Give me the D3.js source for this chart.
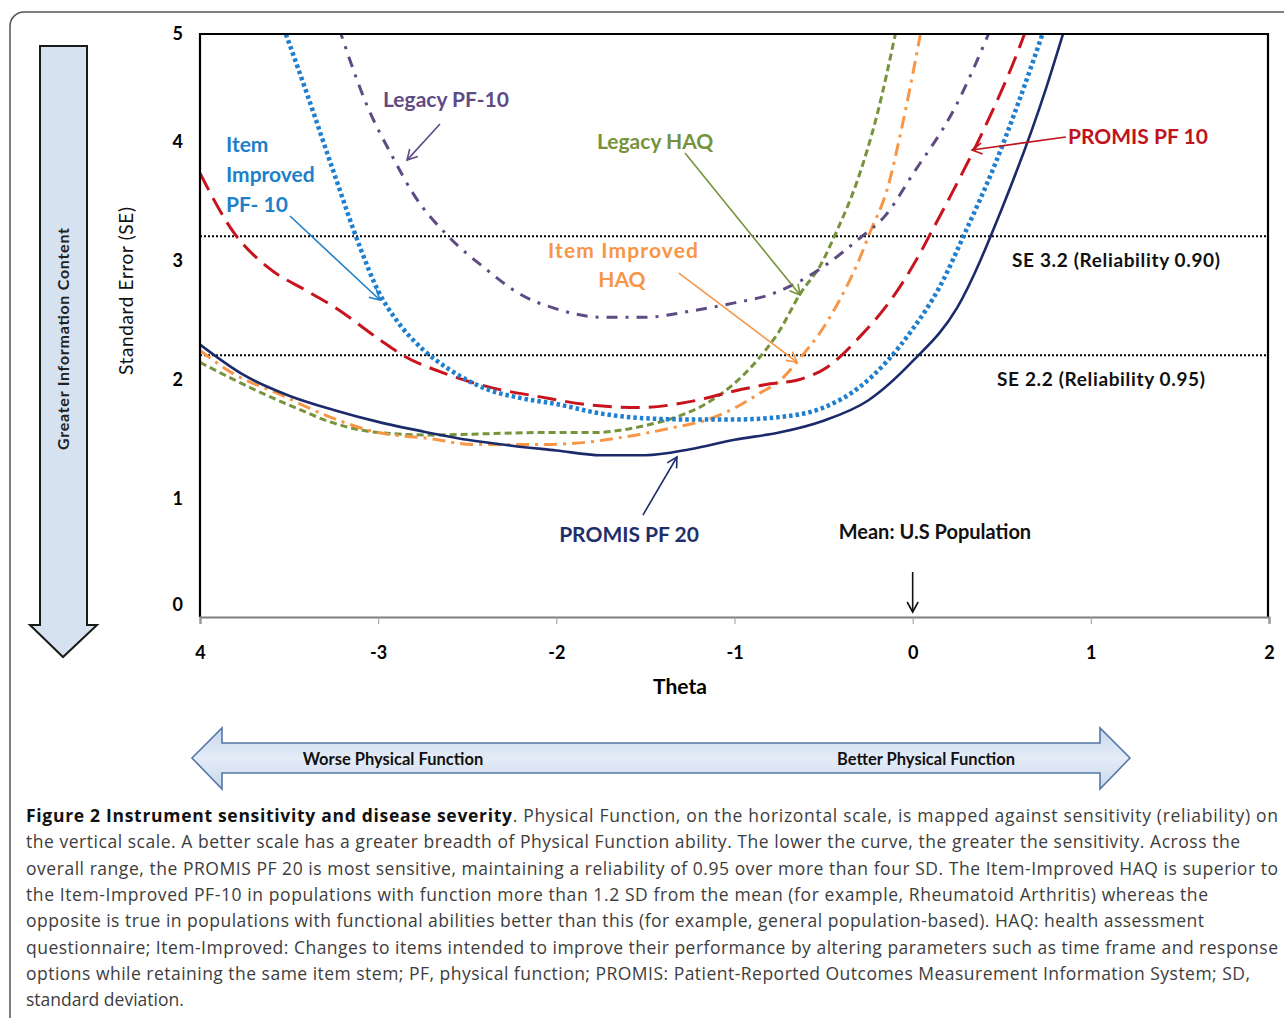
<!DOCTYPE html>
<html>
<head>
<meta charset="utf-8">
<script src="https://cdn.jsdelivr.net/npm/d3@7"></script>
<style>
  html, body { margin: 0; padding: 0; background: #fff; }
  svg { display: block; }
</style>
</head>
<body>
<svg id="chart" width="1284" height="1018"></svg>
<script>
// ---- data ----
const thetaTicks = [-4, -3, -2, -1, 0, 1, 2];
const seTicks = [0, 1, 2, 3, 4, 5];
const seLevels = [3.2, 2.2];
const seLabels = ["SE 3.2 (Reliability 0.90)", "SE 2.2 (Reliability 0.95)"];

// [theta, SE]
const promisPF20 = [[-4, 2.29], [-3.75, 2.03], [-3.5, 1.86], [-3.25, 1.74], [-3, 1.64], [-2.75, 1.56],
  [-2.5, 1.49], [-2.25, 1.44], [-2, 1.40], [-1.75, 1.36], [-1.5, 1.36], [-1.25, 1.41], [-1, 1.49],
  [-0.75, 1.55], [-0.5, 1.65], [-0.25, 1.82], [0, 2.15], [0.25, 2.60], [0.5, 3.43], [0.75, 4.45], [0.86, 4.98]];
const itemImprovedPF10 = [[-3.53, 4.95], [-3.4, 4.4], [-3.25, 3.74], [-3.1, 3.1], [-3, 2.74], [-2.9, 2.5],
  [-2.75, 2.25], [-2.6, 2.08], [-2.4, 1.92], [-2.2, 1.84], [-2, 1.79], [-1.75, 1.71], [-1.5, 1.67],
  [-1.25, 1.66], [-1, 1.66], [-0.75, 1.68], [-0.5, 1.76], [-0.3, 1.93], [-0.15, 2.14], [0, 2.42],
  [0.15, 2.77], [0.3, 3.25], [0.45, 3.76], [0.6, 4.35], [0.74, 4.95]];
const legacyPF10 = [[-3.22, 4.95], [-3.06, 4.29], [-2.92, 3.87], [-2.8, 3.55], [-2.6, 3.19], [-2.4, 2.93],
  [-2.2, 2.71], [-2, 2.59], [-1.75, 2.52], [-1.5, 2.52], [-1.25, 2.57], [-1, 2.64], [-0.8, 2.71],
  [-0.6, 2.85], [-0.45, 3.0], [-0.3, 3.18], [-0.15, 3.38], [0, 3.72], [0.23, 4.26], [0.44, 4.95]];
const promisPF10 = [[-4, 3.73], [-3.81, 3.23], [-3.62, 2.94], [-3.4, 2.74], [-3.25, 2.61], [-3, 2.34],
  [-2.85, 2.19], [-2.65, 2.06], [-2.37, 1.93], [-2.09, 1.85], [-1.8, 1.78], [-1.53, 1.76], [-1.25, 1.81],
  [-0.97, 1.91], [-0.8, 1.96], [-0.65, 1.99], [-0.48, 2.10], [-0.3, 2.35], [-0.11, 2.69], [0.02, 3.0],
  [0.11, 3.25], [0.23, 3.59], [0.4, 4.1], [0.6, 4.79], [0.64, 4.95]];
const legacyHAQ = [[-4, 2.14], [-3.83, 2.01], [-3.62, 1.86], [-3.45, 1.75], [-3.27, 1.64], [-3, 1.55],
  [-2.7, 1.53], [-2.4, 1.54], [-2.1, 1.55], [-1.8, 1.55], [-1.53, 1.60], [-1.35, 1.67], [-1.2, 1.76],
  [-1.07, 1.88], [-0.86, 2.18], [-0.75, 2.40], [-0.63, 2.72], [-0.52, 2.95], [-0.43, 3.23],
  [-0.31, 3.67], [-0.2, 4.22], [-0.09, 4.95]];
const itemImprovedHAQ = [[-4, 2.24], [-3.83, 2.06], [-3.55, 1.87], [-3.27, 1.68], [-3, 1.55], [-2.71, 1.50],
  [-2.47, 1.45], [-2.1, 1.45], [-1.9, 1.46], [-1.63, 1.51], [-1.35, 1.59], [-1.15, 1.66], [-0.97, 1.78],
  [-0.86, 1.88], [-0.75, 1.98], [-0.63, 2.18], [-0.52, 2.39], [-0.43, 2.61], [-0.31, 2.97],
  [-0.24, 3.23], [-0.14, 3.61], [-0.06, 4.12], [0.05, 4.95]];

const captionLines = [
  ["Figure 2 Instrument sensitivity and disease severity", ". Physical Function, on the horizontal scale, is mapped against sensitivity (reliability) on"],
  ["", "the vertical scale. A better scale has a greater breadth of Physical Function ability. The lower the curve, the greater the sensitivity. Across the"],
  ["", "overall range, the PROMIS PF 20 is most sensitive, maintaining a reliability of 0.95 over more than four SD. The Item-Improved HAQ is superior to"],
  ["", "the Item-Improved PF-10 in populations with function more than 1.2 SD from the mean (for example, Rheumatoid Arthritis) whereas the"],
  ["", "opposite is true in populations with functional abilities better than this (for example, general population-based). HAQ: health assessment"],
  ["", "questionnaire; Item-Improved: Changes to items intended to improve their performance by altering parameters such as time frame and response"],
  ["", "options while retaining the same item stem; PF, physical function; PROMIS: Patient-Reported Outcomes Measurement Information System; SD,"],
  ["", "standard deviation."]
];
const captionWidths = [1252, 1214, 1252, 1182, 1178, 1252, 1224, null];

// ---- layout ----
const svg = d3.select("#chart");
const plot = {left: 200, right: 1268, top: 34, bottom: 617};
const x = d3.scaleLinear().domain([-4, 2]).range([plot.left, 1269]);
const y = d3.scaleLinear().domain([0, 4.9]).range([plot.bottom, plot.top]);
const labelFont = "Lato, 'Open Sans', sans-serif";

const series = [
  {data: legacyHAQ, color: "#77933c", dash: "7,4", width: 3},
  {data: itemImprovedHAQ, color: "#f79646", dash: "13,6,3,6", width: 3},
  {data: legacyPF10, color: "#5f4b84", dash: "11,8,3,8", width: 3},
  {data: promisPF10, color: "#c8141e", dash: "19,9", width: 3},
  {data: itemImprovedPF10, color: "#1e7fcf", dash: "3.5,3", width: 4.5},
  {data: promisPF20, color: "#1b2a6b", dash: null, width: 2.6}
];

const defs = svg.append("defs");
defs.append("clipPath").attr("id", "plotClip").append("rect")
  .attr("x", plot.left).attr("y", plot.top)
  .attr("width", plot.right - plot.left).attr("height", plot.bottom - plot.top);

const grad = defs.append("linearGradient").attr("id", "bandGrad")
  .attr("x1", 0).attr("y1", 0).attr("x2", 0).attr("y2", 1);
grad.append("stop").attr("offset", "0%").attr("stop-color", "#c9d8ec");
grad.append("stop").attr("offset", "50%").attr("stop-color", "#e4ecf7");
grad.append("stop").attr("offset", "100%").attr("stop-color", "#c9d8ec");

function marker(id, color) {
  defs.append("marker").attr("id", id)
    .attr("markerUnits", "userSpaceOnUse")
    .attr("markerWidth", 14).attr("markerHeight", 14)
    .attr("refX", 11).attr("refY", 7).attr("orient", "auto")
    .append("path").attr("d", "M1,1.5 L11,7 L1,12.5")
    .attr("fill", "none").attr("stroke", color).attr("stroke-width", 1.6);
}

// outer rounded frame
svg.append("rect").attr("x", 10).attr("y", 12).attr("width", 1300).attr("height", 1030)
  .attr("rx", 14).attr("fill", "none").attr("stroke", "#555").attr("stroke-width", 1.5);

// vertical arrow "Greater Information Content"
svg.append("path")
  .attr("d", "M40,46 L87,46 L87,625 L97,625 L63,657 L30,625 L40,625 Z")
  .attr("fill", "#d7e2f0").attr("stroke", "#1a1a1a").attr("stroke-width", 2);
svg.append("text").attr("transform", "translate(69,339) rotate(-90)")
  .attr("text-anchor", "middle").attr("font-family", labelFont).attr("font-weight", "bold")
  .attr("font-size", 16).attr("textLength", 222).attr("lengthAdjust", "spacing")
  .attr("fill", "#222").text("Greater Information Content");

// horizontal double arrow
svg.append("path")
  .attr("d", "M192,758 L222,728 L222,743 L1100,743 L1100,728 L1130,758 L1100,789 L1100,773 L222,773 L222,789 Z")
  .attr("fill", "url(#bandGrad)").attr("stroke", "#5577a8").attr("stroke-width", 1.6);
svg.append("text").attr("x", 393).attr("y", 765).attr("text-anchor", "middle")
  .attr("font-family", labelFont).attr("font-weight", "bold").attr("font-size", 16.5)
  .attr("fill", "#111").text("Worse Physical Function");
svg.append("text").attr("x", 926).attr("y", 765).attr("text-anchor", "middle")
  .attr("font-family", labelFont).attr("font-weight", "bold").attr("font-size", 16.5)
  .attr("fill", "#111").text("Better Physical Function");

// reference SE lines
svg.append("g").selectAll("line").data(seLevels).join("line")
  .attr("x1", plot.left).attr("x2", plot.right - 2)
  .attr("y1", d => y(d)).attr("y2", d => y(d))
  .attr("stroke", "#000").attr("stroke-width", 2).attr("stroke-dasharray", "2,2");

// curves
const line = d3.line().x(d => x(d[0])).y(d => y(d[1])).curve(d3.curveMonotoneX);
svg.append("g").attr("clip-path", "url(#plotClip)")
  .selectAll("path").data(series).join("path")
  .attr("d", d => line(d.data))
  .attr("fill", "none")
  .attr("stroke", d => d.color)
  .attr("stroke-width", d => d.width)
  .attr("stroke-dasharray", d => d.dash);

// frame
svg.append("path")
  .attr("d", `M${plot.left},${plot.bottom} L${plot.left},${plot.top} L${plot.right},${plot.top} L${plot.right},${plot.bottom}`)
  .attr("fill", "none").attr("stroke", "#000").attr("stroke-width", 2.2);

// x axis
const xAxis = svg.append("g").attr("transform", `translate(0,${plot.bottom})`)
  .call(d3.axisBottom(x).tickValues(thetaTicks).tickSize(7).tickPadding(22)
    .tickFormat(d => d === -4 ? "4" : String(d)));
xAxis.select(".domain").attr("stroke", "#7f7f7f").attr("stroke-width", 2.2);
xAxis.selectAll(".tick line").attr("stroke", "#9a9a9a").attr("stroke-width", 1);
xAxis.selectAll(".tick text").attr("font-family", labelFont).attr("font-weight", "bold")
  .attr("font-size", 18).attr("fill", "#000");

// y tick labels (no tick marks, as in the figure)
svg.append("g").selectAll("text").data(seTicks).join("text")
  .attr("x", 183)
  .attr("y", d => d === 0 ? y(0) - 12 : y(Math.min(d, y.domain()[1])))
  .attr("dy", "0.36em").attr("text-anchor", "end")
  .attr("font-family", labelFont).attr("font-weight", "bold").attr("font-size", 18)
  .text(d => d);

// axis titles
svg.append("text").attr("x", 680).attr("y", 694).attr("text-anchor", "middle")
  .attr("font-family", labelFont).attr("font-weight", "bold").attr("font-size", 21).text("Theta");
svg.append("text").attr("transform", "translate(133,291) rotate(-90)").attr("text-anchor", "middle")
  .attr("font-family", labelFont).attr("font-size", 19).attr("textLength", 168).attr("lengthAdjust", "spacing")
  .attr("fill", "#111").text("Standard Error (SE)");

// SE level labels
svg.append("g").selectAll("text").data(seLevels).join("text")
  .attr("x", (d, i) => i === 0 ? 1012 : 997)
  .attr("y", d => y(d) + 24).attr("dy", "0.36em")
  .attr("font-family", labelFont).attr("font-weight", "bold").attr("font-size", 19)
  .attr("textLength", 208).attr("lengthAdjust", "spacing")
  .attr("fill", "#111").text((d, i) => seLabels[i]);

// annotations: label text and pointer arrows (data coordinates)
const notes = [
  {lines: ["Legacy PF-10"], at: [-2.973, 4.353], anchor: "start", color: "#5f4b84", from: [-2.653, 4.143], to: [-2.838, 3.84]},
  {lines: ["Item", "Improved", "PF- 10"], at: [-3.854, 3.975], anchor: "start", color: "#1f7fc9", from: [-3.495, 3.37], to: [-2.99, 2.664]},
  {lines: ["Legacy HAQ"], at: [-1.772, 4.0], anchor: "start", color: "#76923c", from: [-1.278, 3.899], to: [-0.632, 2.706]},
  {lines: ["Item Improved"], at: [-2.047, 3.084], anchor: "start", color: "#f79646", from: [-1.312, 2.891], to: [-0.649, 2.143], width: 150},
  {lines: ["HAQ"], at: [-1.632, 2.84], anchor: "middle", color: "#f79646"},
  {lines: ["PROMIS PF 10"], at: [0.872, 4.042], anchor: "start", color: "#c0141c", from: [0.86, 4.034], to: [0.333, 3.925]},
  {lines: ["PROMIS PF 20"], at: [-1.592, 0.698], anchor: "middle", color: "#1f2f6b", from: [-1.514, 0.857], to: [-1.323, 1.345]},
  {lines: ["Mean: U.S Population"], at: [0.125, 0.72], anchor: "middle", color: "#111", from: [0, 0.378], to: [0, 0.042], size: 20}
];
notes.forEach((n, i) => {
  const g = svg.append("g");
  n.lines.forEach((t, j) => {
    const tx = g.append("text").attr("x", x(n.at[0])).attr("y", y(n.at[1]) + j * 30).attr("dy", "0.36em")
      .attr("text-anchor", n.anchor).attr("font-family", labelFont).attr("font-weight", "bold")
      .attr("font-size", n.size || 21).attr("fill", n.color).text(t);
    if (n.width) tx.attr("textLength", n.width).attr("lengthAdjust", "spacing");
  });
  if (n.from) {
    marker("arr" + i, n.color);
    g.append("line")
      .attr("x1", x(n.from[0])).attr("y1", y(n.from[1]))
      .attr("x2", x(n.to[0])).attr("y2", y(n.to[1]))
      .attr("stroke", n.color).attr("stroke-width", 1.6)
      .attr("marker-end", `url(#arr${i})`);
  }
});

// caption
const cap = svg.append("g").attr("font-family", "'Open Sans', sans-serif").attr("font-size", 17.5);
captionLines.forEach((l, i) => {
  const t = cap.append("text").attr("x", 26).attr("y", 822 + i * 26.3).attr("fill", "#3d3d3d");
  if (captionWidths[i]) t.attr("textLength", captionWidths[i]).attr("lengthAdjust", "spacing");
  if (l[0]) t.append("tspan").attr("font-weight", "bold").attr("fill", "#111").text(l[0]);
  t.append("tspan").text(l[1]);
});
</script>
</body>
</html>
